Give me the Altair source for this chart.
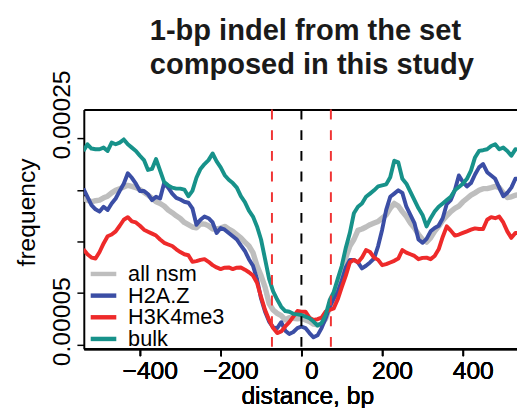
import altair as alt
import pandas as pd

# distance from the nucleosome dyad, bp (x grid of the profiles)
positions = list(range(-540, 550, 10))

series_names = ["all nsm", "H2A.Z", "H3K4me3", "bulk"]
series_colors = ["#BEBEBE", "#3B4EA5", "#EE2A2A", "#17928A"]
line_widths = [5.5, 4, 4, 4]

# frequencies in units of 1e-5 at each position
all_nsm = [19.16, 19.0, 18.84, 18.94, 19.0, 19.22, 19.38, 19.70, 19.95, 20.11,
           20.27, 20.43, 20.33, 20.21, 20.02, 19.76, 19.48, 19.19, 18.84, 18.68,
           18.43, 18.05, 17.79, 17.48, 17.22, 16.84, 16.62, 16.40, 16.33, 16.71,
           16.68, 16.52, 16.21, 16.21, 16.30, 16.46, 16.21, 15.98, 15.67, 15.35,
           14.94, 14.56, 13.92, 12.65, 11.70, 10.59, 9.0, 8.37, 8.05, 7.83,
           7.41, 7.63, 7.57, 7.51, 7.57, 7.41, 7.25, 7.0, 6.93, 7.0,
           7.51, 8.68, 9.32, 10.59, 11.86, 13.45, 14.56, 15.19, 16.08, 16.21,
           16.40, 16.62, 16.78, 16.94, 17.25, 17.57, 18.21, 18.68, 18.43, 17.89,
           17.41, 16.78, 16.30, 15.67, 15.19, 14.94, 15.35, 15.98, 16.46, 17.03,
           17.48, 17.89, 18.21, 18.43, 18.84, 19.16, 19.48, 19.70, 19.95, 20.11,
           20.11, 20.21, 20.33, 20.21, 19.70, 19.25, 19.32, 19.48, 19.5]
h2az = [20.11, 19.32, 18.52, 18.11, 17.89, 18.36, 18.05, 18.68, 19.16, 19.89,
        20.59, 21.60, 21.16, 20.59, 19.89, 19.89, 19.57, 19.0, 19.32, 19.16,
        20.65, 20.21, 19.63, 19.22, 19.06, 18.84, 18.75, 18.21, 16.62, 17.10,
        17.41, 17.25, 16.84, 15.82, 16.30, 16.14, 15.82, 15.51, 15.19, 14.62,
        14.08, 13.29, 12.65, 11.38, 9.48, 8.21, 7.25, 6.68, 6.62, 7.19,
        6.37, 6.05, 6.24, 6.62, 6.78, 6.62, 6.14, 5.73, 5.92, 6.62,
        7.57, 8.68, 9.48, 10.11, 11.22, 12.49, 13.22, 13.22, 12.97, 12.40,
        12.65, 12.97, 13.35, 14.56, 16.14, 18.05, 19.32, 19.63, 19.95, 19.70,
        18.36, 17.57, 16.78, 15.19, 14.87, 15.25, 15.98, 16.30, 16.52, 17.25,
        18.62, 19.0, 19.95, 21.38, 20.75, 20.33, 20.65, 21.48, 22.17, 22.49,
        21.70, 21.38, 21.06, 20.21, 19.38, 19.70, 20.21, 21.06, 21.1]
h3k4me3 = [14.24, 13.76, 13.44, 13.35, 13.98, 14.81, 15.51, 15.67, 15.98, 16.52,
           17.10, 17.35, 16.94, 16.84, 16.52, 16.14, 15.95, 15.76, 15.57, 15.19,
           14.87, 14.71, 14.56, 14.24, 13.98, 13.76, 13.67, 13.03, 13.10, 13.22,
           13.29, 13.03, 12.71, 12.49, 12.33, 12.46, 12.49, 12.33, 12.46, 12.49,
           12.27, 12.02, 11.70, 11.0, 9.64, 8.37, 7.41, 6.62, 6.14, 6.30,
           6.78, 7.19, 7.73, 8.27, 8.21, 8.21, 7.63, 7.41, 7.48, 7.63,
           8.21, 8.37, 8.52, 9.41, 10.59, 11.70, 12.97, 13.22, 12.97, 13.44,
           14.17, 13.98, 13.44, 13.22, 12.71, 12.81, 12.97, 13.13, 13.35, 14.17,
           13.92, 13.76, 13.60, 13.29, 13.41, 13.44, 13.29, 13.60, 14.24, 15.44,
           16.46, 16.05, 15.57, 15.67, 15.83, 15.98, 16.14, 16.27, 16.21, 16.21,
           17.10, 17.35, 17.25, 17.41, 16.84, 15.98, 15.35, 15.83, 15.8]
bulk = [23.76, 24.4, 23.99, 23.92, 23.92, 24.08, 23.76, 24.56, 24.4, 24.56,
        24.87, 24.4, 24.08, 23.76, 23.29, 22.87, 21.92, 22.02, 22.97, 21.86,
        20.75, 20.43, 20.21, 20.11, 20.11, 20.02, 19.38, 19.89, 21.16, 22.02,
        22.49, 22.87, 23.51, 22.75, 22.17, 21.41, 20.97, 20.65, 20.21, 19.38,
        18.81, 17.98, 17.41, 16.46, 15.19, 13.29, 11.38, 10.17, 9.38, 8.68,
        8.27, 8.2, 8.0, 7.95, 7.89, 7.73, 7.57, 7.25, 6.87, 7.10,
        7.89, 9.32, 10.11, 11.38, 12.65, 14.4, 15.83, 17.73, 18.36, 18.68,
        19.32, 19.63, 19.95, 20.33, 20.43, 20.52, 21.22, 22.81, 22.65, 21.06,
        20.59, 19.79, 19.0, 18.21, 17.57, 16.46, 17.25, 17.89, 18.36, 18.68,
        19.0, 19.32, 19.95, 20.27, 20.59, 21.06, 21.86, 23.13, 23.76, 23.83,
        23.92, 24.24, 24.4, 23.92, 24.08, 23.76, 23.29, 23.92, 23.9]

# dashed reference lines: nucleosome edges and dyad
marker_positions = [-73, 0, 73]
marker_kinds = ["edge", "dyad", "edge"]

x_ticks = [-400, -200, 0, 200, 400]
y_ticks = [0.00005, 0.0001, 0.00015, 0.0002, 0.00025]

FONT = "Liberation Sans"

rows = []
for name, vals in zip(series_names, [all_nsm, h2az, h3k4me3, bulk]):
    for p, v in zip(positions, vals):
        rows.append({"distance": p, "frequency": v * 1e-5, "series": name})
df = pd.DataFrame(rows)
markers = pd.DataFrame({"pos": marker_positions, "kind": marker_kinds})

x_scale = alt.Scale(domain=[-539, 534], nice=False, zero=False)
y_scale = alt.Scale(domain=[0.00004619, 0.00027762], nice=False, zero=False)
color_scale = alt.Scale(domain=series_names, range=series_colors)

x_axis = alt.Axis(values=x_ticks, orient="bottom", grid=False, domainColor="black",
                  domainWidth=2, tickColor="black", tickWidth=1.5, tickSize=7,
                  labelFontSize=25, labelFont=FONT, labelColor="black", labelPadding=3,
                  labelOffset=10,
                  title="distance, bp", titleFont=FONT, titleFontSize=25,
                  titleFontWeight="normal", titleColor="black",
                  titleX=227, titleY=56, titleBaseline="alphabetic", titleAlign="center")
y_axis = alt.Axis(values=y_ticks, orient="left", grid=False, domainColor="black",
                  domainWidth=2, tickColor="black", tickWidth=1.5, tickSize=7,
                  labelExpr="(abs(datum.value-0.00005)<1e-9 || abs(datum.value-0.00025)<1e-9) ? format(datum.value, '.5f') : ''",
                  labelAngle=270, labelAlign="center", labelBaseline="alphabetic",
                  labelPadding=8, labelOffset=-24, labelOverlap=False, labelBound=False,
                  labelFontSize=25, labelFont=FONT, labelColor="black",
                  title="frequency", titleFont=FONT, titleFontSize=25,
                  titleFontWeight="normal", titleColor="black", titleAngle=270,
                  titleX=-58, titleY=104, titleAlign="center", titleBaseline="middle")
top_axis = alt.Axis(orient="top", labels=False, ticks=False, grid=False, domain=True,
                    domainColor="black", domainWidth=2, title=None)

legend = alt.Legend(title=None, orient="none", legendX=9, legendY=156,
                    symbolType="M-2,0H2", symbolSize=169, symbolStrokeWidth=4.5,
                    labelFontSize=22, labelFont=FONT, labelColor="black",
                    rowPadding=0, padding=0, labelOffset=14, symbolOpacity=1)

layers = []
for i, name in enumerate(series_names):
    layers.append(
        alt.Chart(df)
        .transform_filter(alt.datum.series == name)
        .mark_line(strokeWidth=line_widths[i], clip=True, strokeJoin="round")
        .encode(
            x=alt.X("distance:Q", scale=x_scale, axis=x_axis),
            y=alt.Y("frequency:Q", scale=y_scale, axis=y_axis),
            color=alt.Color("series:N", scale=color_scale, legend=legend),
        )
    )

rules = (
    alt.Chart(markers)
    .mark_rule(strokeDash=[10, 11], strokeWidth=2)
    .encode(
        x=alt.X("pos:Q", scale=x_scale, axis=top_axis),
        stroke=alt.Stroke("kind:N", scale=alt.Scale(domain=["edge", "dyad"],
                                                   range=["#F03434", "#000000"]),
                          legend=None),
    )
)

chart = (
    alt.layer(*layers, rules)
    .resolve_axis(x="independent")
    .properties(
        width=440, height=243,
        padding={"left": 77, "top": 100, "right": 0, "bottom": 57},
        autosize=alt.AutoSizeParams(type="none"),
        title=alt.TitleParams(
            text=["1-bp indel from the set", "composed in this study"],
            font=FONT, fontSize=29.5, fontWeight="bold", color="#1a1a1a",
            anchor="start", align="left", dx=67, dy=70, offset=30, lineHeight=35,
            baseline="bottom", frame="group",
        ),
    )
    .configure_view(stroke=None)
)

chart.save("out.html", embed_options={"renderer": "svg", "actions": False})
